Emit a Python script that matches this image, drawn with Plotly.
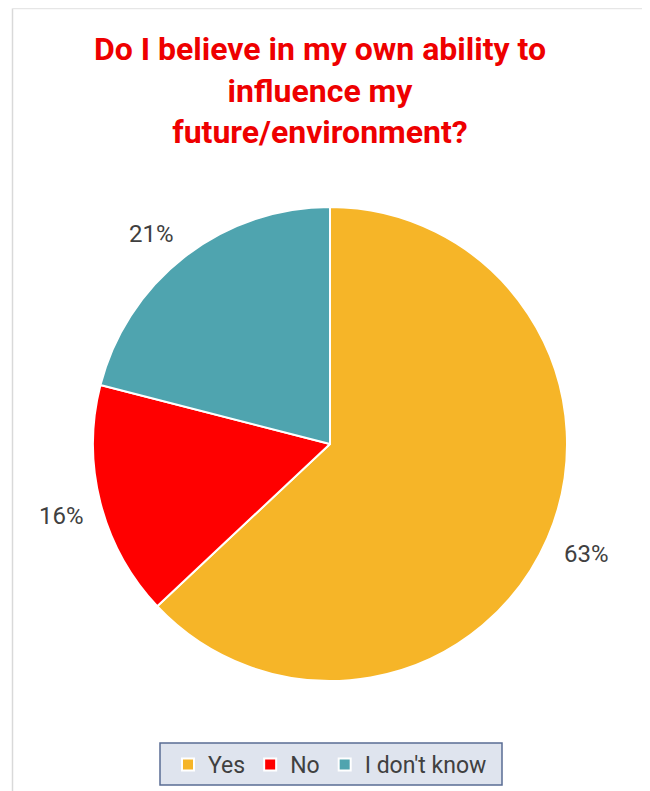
import math
import plotly.graph_objects as go

labels = ["Yes", "No", "I don't know"]
values = [63, 16, 21]
colors = ["#F6B528", "#FF0000", "#4FA4AF"]
title_text = "Do I believe in my own ability to<br>influence my<br>future/environment?"

# figure is placed by the page with an 8px body margin
W, H = 642, 783


def px(x):
    return x / W


def py(y):
    return 1 - y / H


# pie geometry (in figure pixels)
CX, CY, R = 322, 436, 237
LABEL_R = 255          # distance of label box edge from centre
HALF_W, HALF_H = 22, 9  # approx half size of a label box

fig = go.Figure(go.Pie(
    labels=labels,
    values=values,
    sort=False,
    direction="clockwise",
    rotation=0,
    marker=dict(colors=colors, line=dict(color="white", width=2)),
    textinfo="none",
    domain=dict(x=[px(CX - R), px(CX + R)], y=[py(CY + R), py(CY - R)]),
    showlegend=True,
    hoverinfo="label+percent",
))

# percent labels placed outside each slice at its mid angle
total = sum(values)
annotations = []
cum = 0
for v in values:
    mid = (cum + v / 2) / total * 2 * math.pi
    cum += v
    ux, uy = math.sin(mid), -math.cos(mid)
    x = CX + LABEL_R * ux + HALF_W * math.copysign(1, ux)
    y = CY + LABEL_R * uy + HALF_H * math.copysign(1, uy)
    annotations.append(dict(
        x=px(x), y=py(y), xref="paper", yref="paper",
        text=f"{round(v / total * 100)}%", showarrow=False,
        xanchor="center", yanchor="middle",
        font=dict(family="Roboto", size=24, color="#404040"),
    ))

fig.update_layout(
    width=W, height=H,
    margin=dict(l=0, r=0, t=0, b=0),
    paper_bgcolor="white",
    plot_bgcolor="white",
    title=dict(
        text=title_text,
        font=dict(family="Roboto", size=32, color="#EE0000", weight="bold"),
        x=px(312), xanchor="center",
        y=py(52), yanchor="top", yref="container",
    ),
    legend=dict(
        orientation="h",
        x=px(160), xanchor="left",
        y=py(735), yanchor="top",
        bgcolor="rgba(0,0,0,0)",
        borderwidth=0,
        font=dict(family="Roboto", size=23, color="#404040"),
    ),
    annotations=annotations,
    shapes=[
        dict(type="rect", xref="paper", yref="paper", layer="below",
             x0=px(152), x1=px(494), y0=py(777), y1=py(735),
             fillcolor="#DFE4EE", line=dict(color="#5A6C94", width=1.5)),
        dict(type="line", xref="paper", yref="paper", x0=px(4.5), x1=px(4.5), y0=-0.05, y1=py(0.5),
             line=dict(color="#D9D9D9", width=1.5)),
        dict(type="line", xref="paper", yref="paper", x0=px(640), x1=px(640), y0=-0.05, y1=py(0.5),
             line=dict(color="#D9D9D9", width=1.5)),
        dict(type="line", xref="paper", yref="paper", x0=px(4.5), x1=px(640), y0=py(0.5), y1=py(0.5),
             line=dict(color="#E6E6E6", width=1.5)),
    ],
)

fig.write_html("out.html")
